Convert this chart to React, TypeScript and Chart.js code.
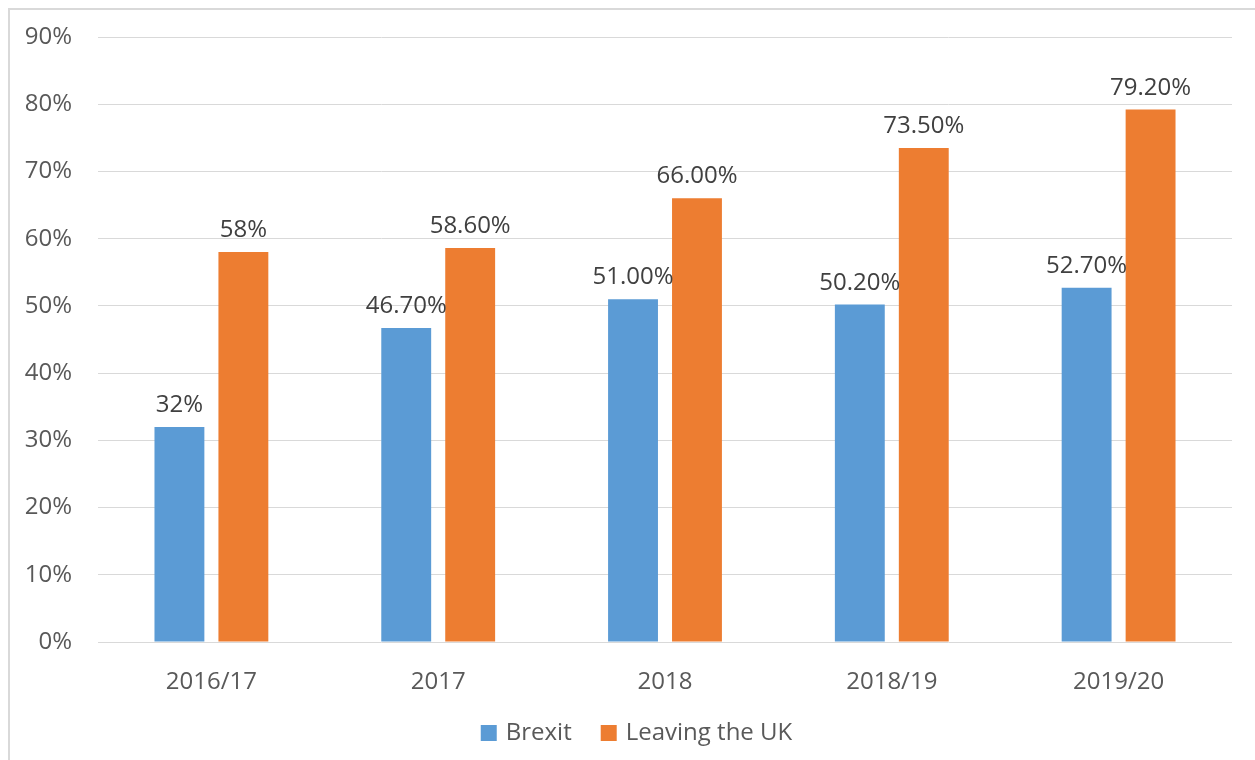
import React, { useEffect, useRef } from "react";
import { Chart, registerables } from "chart.js";

Chart.register(...registerables);

const categories = ["2016/17", "2017", "2018", "2018/19", "2019/20"];
const brexitValues = [32, 46.7, 51, 50.2, 52.7];
const leavingValues = [58, 58.6, 66, 73.5, 79.2];
const brexitLabels = ["32%", "46.70%", "51.00%", "50.20%", "52.70%"];
const leavingLabels = ["58%", "58.60%", "66.00%", "73.50%", "79.20%"];
const yTicks = [0, 10, 20, 30, 40, 50, 60, 70, 80, 90];

const FONT = "'Open Sans', 'DejaVu Sans', sans-serif";

const dataLabelPlugin = {
  id: "dataLabels",
  afterDatasetsDraw(chart: any) {
    const ctx = chart.ctx;
    const labelSets = [brexitLabels, leavingLabels];
    ctx.save();
    ctx.font = `24px ${FONT}`;
    ctx.fillStyle = "#404040";
    ctx.textAlign = "center";
    ctx.textBaseline = "alphabetic";
    chart.data.datasets.forEach((_: any, di: number) => {
      const meta = chart.getDatasetMeta(di);
      meta.data.forEach((bar: any, i: number) => {
        ctx.fillText(labelSets[di][i], bar.x, bar.y - 15);
      });
    });
    ctx.restore();
  },
};

const customLegendPlugin = {
  id: "customLegend",
  afterDraw(chart: any) {
    const ctx = chart.ctx;
    ctx.save();
    ctx.font = `24px ${FONT}`;
    ctx.textBaseline = "middle";
    ctx.textAlign = "left";
    const box = 16;
    const gapText = 9;
    const gapItem = 29;
    const ds = chart.data.datasets;
    const widths = ds.map((d: any) => box + gapText + ctx.measureText(d.label).width);
    const total = widths.reduce((a: number, b: number) => a + b, 0) + gapItem * (ds.length - 1);
    let x = 636.5 - total / 2;
    const cy = 733;
    ds.forEach((d: any, i: number) => {
      ctx.fillStyle = d.backgroundColor;
      ctx.fillRect(x, cy - box / 2, box, box);
      ctx.fillStyle = "#595959";
      ctx.fillText(d.label, x + box + gapText, cy);
      x += widths[i] + gapItem;
    });
    ctx.restore();
  },
};

export default function App() {
  const canvasRef = useRef<HTMLCanvasElement>(null);

  useEffect(() => {
    document.body.style.margin = "0";
    const chart = new Chart(canvasRef.current!, {
      type: "bar",
      data: {
        labels: categories,
        datasets: [
          {
            label: "Brexit",
            data: brexitValues,
            backgroundColor: "#5B9BD5",
            barPercentage: 0.78,
            categoryPercentage: 0.564,
          },
          {
            label: "Leaving the UK",
            data: leavingValues,
            backgroundColor: "#ED7D31",
            barPercentage: 0.78,
            categoryPercentage: 0.564,
          },
        ],
      },
      options: {
        responsive: false,
        animation: false,
        layout: { padding: { left: 0, right: 23, top: 37, bottom: 0 } },
        scales: {
          x: {
            grid: { display: false, drawTicks: false },
            border: { display: false },
            afterFit(scale: any) {
              scale.height = 118;
            },
            ticks: {
              color: "#595959",
              font: { family: FONT, size: 24 },
              padding: 26,
            },
          },
          y: {
            min: 0,
            max: 90,
            afterBuildTicks(scale: any) {
              scale.ticks = yTicks.map((v) => ({ value: v }));
            },
            afterFit(scale: any) {
              scale.width = 98;
              scale.paddingTop = 0;
              scale.paddingBottom = 0;
            },
            grid: { color: "#d9d9d9", drawTicks: false, lineWidth: 1 },
            border: { display: false },
            ticks: {
              color: "#595959",
              font: { family: FONT, size: 24 },
              padding: 26,
              callback: (v: any) => `${v}%`,
            },
          },
        },
        plugins: {
          legend: { display: false },
          tooltip: { enabled: false },
        },
      },
      plugins: [dataLabelPlugin, customLegendPlugin],
    });
    return () => chart.destroy();
  }, []);

  return (
    <div style={{ position: "relative", width: 1255, height: 760, overflow: "hidden", background: "#fff" }}>
      <canvas ref={canvasRef} width={1255} height={760} style={{ position: "absolute", left: 0, top: 0 }} />
      <div
        style={{
          position: "absolute",
          left: 8,
          top: 8,
          width: 1300,
          height: 800,
          border: "2px solid #d9d9d9",
          pointerEvents: "none",
        }}
      />
    </div>
  );
}
